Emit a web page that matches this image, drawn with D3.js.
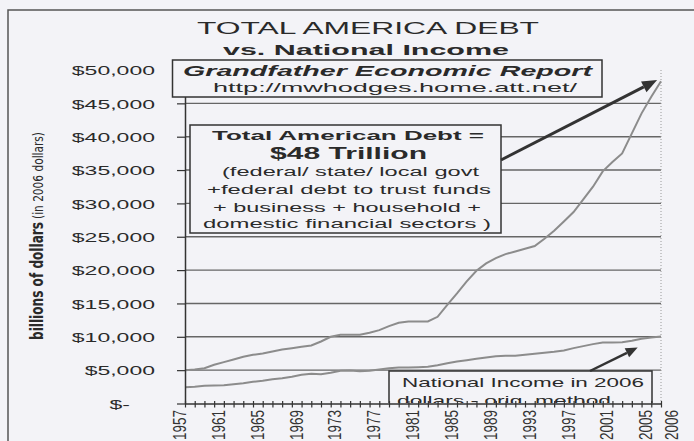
<!DOCTYPE html>
<html><head><meta charset="utf-8">
<script src="https://cdn.jsdelivr.net/npm/d3@7"></script>
<style>
html,body{margin:0;padding:0;background:#f3f3f7;}
svg{display:block;font-family:"Liberation Sans",Arial,sans-serif;}
</style></head><body>
<svg id="c" width="694" height="441"></svg>
<script>
// ---------- data ----------
const years = [1957,1958,1959,1960,1961,1962,1963,1964,1965,1966,1967,1968,1969,1970,1971,1972,1973,1974,1975,1976,1977,1978,1979,1980,1981,1982,1983,1984,1985,1986,1987,1988,1989,1990,1991,1992,1993,1994,1995,1996,1997,1998,1999,2000,2001,2002,2003,2004,2005,2006];
const totalDebt = [5000,5100,5300,5800,6200,6600,7000,7300,7500,7800,8100,8300,8500,8700,9300,10000,10300,10300,10300,10600,11000,11600,12100,12300,12300,12300,13000,14800,16500,18300,19900,21000,21800,22400,22800,23200,23600,24700,25900,27300,28700,30600,32500,34800,36200,37500,40500,43500,46000,48300];
const nationalIncome = [2450,2500,2650,2700,2750,2900,3050,3250,3400,3650,3800,4000,4300,4450,4400,4600,4900,4950,4850,4900,5100,5300,5400,5400,5450,5500,5750,6050,6300,6500,6700,6900,7100,7150,7150,7300,7450,7600,7750,7950,8300,8600,8900,9150,9150,9200,9400,9700,9900,10050];
const yTicks = [0,5000,10000,15000,20000,25000,30000,35000,40000,45000,50000];
const xLabelYears = [1957,1961,1965,1969,1973,1977,1981,1985,1989,1993,1997,2001,2005,2006];
const titleLines = ["TOTAL AMERICA DEBT","vs. National Income"];
const sourceLines = ["Grandfather Economic Report","http://mwhodges.home.att.net/"];
const debtNote = ["Total American Debt =","$48 Trillion","(federal/ state/ local govt","+federal debt to trust funds","+ business + household +","domestic financial sectors )"];
const incomeNote = ["National Income in 2006","dollars - orig. method"];
const yTitle = ["billions of dollars","(in 2006 dollars)"];

// ---------- setup ----------
const svg = d3.select("#c");
const BG = "#f3f3f7", INK = "#2a2a2a";
const x = d3.scaleLinear().domain([1957,2006]).range([185,661]);
const y = d3.scaleLinear().domain([0,50000]).range([403.5,70]);

function txt(p, s, tx, ty, o) {
  const t = p.append("text").attr("x", tx).attr("y", ty).text(s)
    .attr("font-size", o.size).attr("fill", o.fill || INK)
    .attr("text-anchor", o.anchor || "middle");
  if (o.weight) t.attr("font-weight", o.weight);
  if (o.style) t.attr("font-style", o.style);
  if (o.family) t.attr("font-family", o.family);
  if (o.len) t.attr("textLength", o.len).attr("lengthAdjust", "spacingAndGlyphs");
  return t;
}

// outer frame
svg.append("path").attr("d","M8,441V10H694").attr("fill","none").attr("stroke","#555").attr("stroke-width",1.5);

// gridlines
svg.append("g").selectAll("line").data(yTicks.filter(d => d > 0 && d < 50000)).join("line")
  .attr("x1", x(1957)).attr("x2", x(2006)).attr("y1", d => y(d)).attr("y2", d => y(d))
  .attr("stroke", "#666").attr("stroke-width", 1.4);
// right dotted edge
svg.append("line").attr("x1", x(2006)).attr("x2", x(2006)).attr("y1", y(50000)).attr("y2", y(0))
  .attr("stroke", "#9a9a9a").attr("stroke-dasharray", "1,2");

// series
const line = d3.line().x((d,i) => x(years[i])).y(d => y(d));
svg.append("path").datum(totalDebt).attr("d", line).attr("fill","none").attr("stroke","#8c8c8c").attr("stroke-width",2);
svg.append("path").datum(nationalIncome).attr("d", line).attr("fill","none").attr("stroke","#8c8c8c").attr("stroke-width",2);

// y axis
const yAxis = svg.append("g").attr("transform", `translate(${x(1957)},0)`)
  .call(d3.axisLeft(y).tickValues(yTicks).tickSize(8).tickSizeOuter(0)
    .tickFormat(d => d === 0 ? "$-" : "$" + d3.format(",")(d)));
yAxis.select(".domain").attr("stroke", "#333").attr("stroke-width", 1.5);
yAxis.selectAll(".tick line").attr("stroke", "#333").attr("stroke-width", 1.2);
yAxis.selectAll(".tick text")
  .attr("font-size", 13).attr("font-family", '"Liberation Sans",Arial,sans-serif').attr("fill", INK)
  .attr("x", d => d === 0 ? -55 : -30).attr("dy", "0.36em")
  .each(function() { const w = this.getComputedTextLength(); d3.select(this).attr("textLength", w * 1.77).attr("lengthAdjust", "spacingAndGlyphs"); });

// x axis
const xAxis = svg.append("g").attr("transform", `translate(0,${y(0)})`)
  .call(d3.axisBottom(x).tickValues(years).tickSize(4).tickSizeOuter(0).tickFormat(""));
xAxis.select(".domain").attr("stroke", "#333").attr("stroke-width", 1.5);
xAxis.selectAll(".tick line").attr("y1", -2.5).attr("y2", 4).attr("stroke", "#333").attr("stroke-width", 1.2);
svg.append("g").selectAll("text").data(xLabelYears).join("text")
  .attr("transform", d => `translate(${x(d) + (d === 2006 ? 17 : 1)},410) rotate(-90) scale(1,1.3)`)
  .attr("text-anchor", "end").attr("font-size", 13.5).attr("fill", "#333")
  .text(d => d);

// national income note (clipped by x axis)
svg.append("clipPath").attr("id","clipNI").append("rect").attr("x",0).attr("y",0).attr("width",694).attr("height",y(0)-0.5);
const ni = svg.append("g").attr("clip-path","url(#clipNI)");
ni.append("rect").attr("x",389).attr("y",371).attr("width",263).attr("height",40)
  .attr("fill",BG).attr("stroke","#333").attr("stroke-width",1.5);
txt(ni, incomeNote[0], 523, 387, {size:13, len:242});
txt(ni, incomeNote[1], 397, 405, {size:13, len:214, anchor:"start"});
// x axis line + ticks on top of the box
svg.node().appendChild(xAxis.node());

// title
txt(svg, titleLines[0], 368, 33.5, {size:16, len:342});
txt(svg, titleLines[1], 366, 55, {size:15.5, weight:"bold", len:286});

// source box
svg.append("rect").attr("x",172.5).attr("y",60).attr("width",429.5).attr("height",37)
  .attr("fill",BG).attr("stroke","#333").attr("stroke-width",1.5);
txt(svg, sourceLines[0], 387.5, 76, {size:15, weight:"bold", style:"italic", len:409});
txt(svg, sourceLines[1], 395, 92, {size:13, len:364});

// debt note box
svg.append("rect").attr("x",190).attr("y",125).attr("width",311).attr("height",108)
  .attr("fill",BG).attr("stroke","#333").attr("stroke-width",1.5);
txt(svg, debtNote[0], 348, 139.5, {size:13, weight:"bold", len:272});
txt(svg, debtNote[1], 348.5, 159, {size:17, weight:"bold", len:157});
txt(svg, debtNote[2], 350.5, 176, {size:12.5, len:257});
txt(svg, debtNote[3], 349, 194, {size:12.5, len:284});
txt(svg, debtNote[4], 347, 211.5, {size:12.5, len:268});
txt(svg, debtNote[5], 347, 228, {size:12.5, len:288});

// y title
const NARROW = '"Liberation Sans Narrow","Arial Narrow","DejaVu Sans Condensed",sans-serif';
txt(svg, yTitle[0], 0, 0, {size:18, weight:"bold", family:NARROW, anchor:"start", len:118})
  .attr("transform","translate(43,340) rotate(-90)");
txt(svg, yTitle[1], 0, 0, {size:14, family:NARROW, anchor:"start", len:87})
  .attr("transform","translate(43,219) rotate(-90)");

// arrows
function arrow(x0, y0, x1, y1, hl, hw, sw) {
  const a = Math.atan2(y1 - y0, x1 - x0);
  const bx = x1 - hl * Math.cos(a), by = y1 - hl * Math.sin(a);
  const nx = -Math.sin(a) * hw, ny = Math.cos(a) * hw;
  svg.append("line").attr("x1", x0).attr("y1", y0).attr("x2", bx).attr("y2", by)
    .attr("stroke", "#333").attr("stroke-width", sw);
  svg.append("polygon").attr("points", `${x1},${y1} ${bx+nx},${by+ny} ${bx-nx},${by-ny}`).attr("fill", "#333");
}
arrow(501, 160, x(2005.6), y(48500), 15, 6, 3);
arrow(590, 371, x(2003.6), y(8400), 12, 5, 2.5);
</script>
</body></html>
